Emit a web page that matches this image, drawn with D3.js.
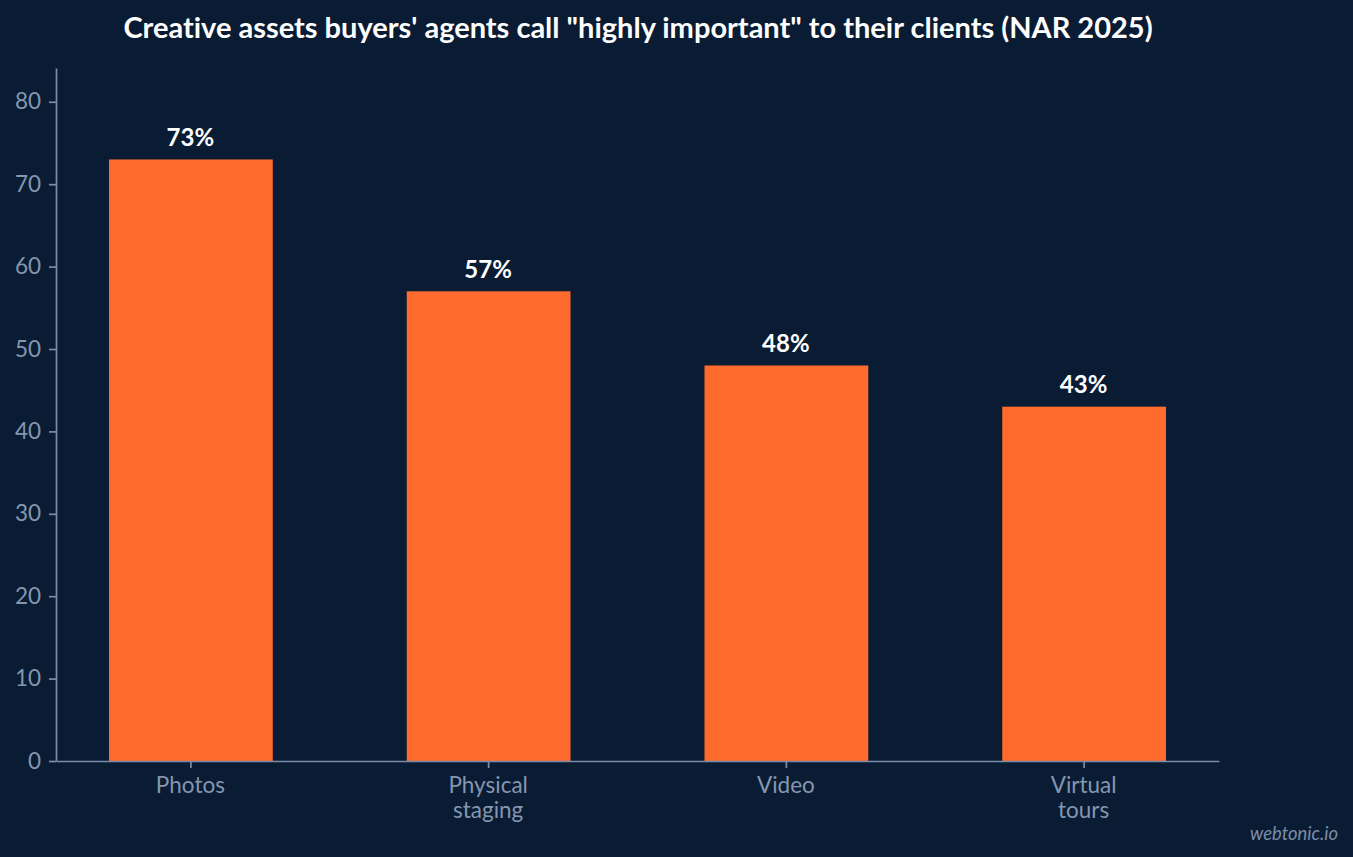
<!DOCTYPE html>
<html>
<head>
<meta charset="utf-8">
<script src="https://cdn.jsdelivr.net/npm/d3@7"></script>
<style>
  html, body { margin: 0; padding: 0; background: #0a1c33; }
  svg { display: block; font-family: Lato, sans-serif; font-variant-ligatures: none; }
  .axis path, .axis line { stroke: #7b8ca8; stroke-width: 1.7; }
  .axis text { fill: #8496b0; font-size: 22.5px; font-family: Lato, sans-serif; }
</style>
</head>
<body>
<svg id="chart"></svg>
<script>
var categories = ["Photos", "Physical\nstaging", "Video", "Virtual\ntours"];
var values = [73, 57, 48, 43];
var yTicks = [0, 10, 20, 30, 40, 50, 60, 70, 80];
var yMax = 84.1;

var width = 1353, height = 857;
var margin = { top: 68, right: 134, bottom: 96, left: 56 };

var svg = d3.select("#chart")
    .attr("width", width)
    .attr("height", height);

svg.append("rect")
    .attr("width", width)
    .attr("height", height)
    .attr("fill", "#0a1c33");

var x = d3.scaleBand()
    .domain(categories)
    .range([margin.left, width - margin.right])
    .paddingInner(0.45)
    .paddingOuter(0.178);

var y = d3.scaleLinear()
    .domain([0, yMax])
    .range([height - margin.bottom, margin.top]);

svg.selectAll(".bar")
    .data(values)
  .enter().append("rect")
    .attr("class", "bar")
    .attr("x", function(d, i) { return x(categories[i]); })
    .attr("y", function(d) { return y(d); })
    .attr("width", x.bandwidth())
    .attr("height", function(d) { return y(0) - y(d); })
    .attr("fill", "#ff6b2c");

svg.selectAll(".value")
    .data(values)
  .enter().append("text")
    .attr("class", "value")
    .attr("x", function(d, i) { return x(categories[i]) + x.bandwidth() / 2 - 0.5; })
    .attr("y", function(d) { return y(d) - 13.5; })
    .attr("text-anchor", "middle")
    .attr("fill", "#ffffff")
    .attr("font-size", 24)
    .attr("font-weight", 700)
    .text(function(d) { return d + "%"; });

var yAxis = svg.append("g")
    .attr("class", "axis")
    .attr("transform", "translate(" + margin.left + ",0)")
    .call(d3.axisLeft(y).tickValues(yTicks).tickSize(7).tickSizeOuter(0).tickPadding(8).tickFormat(d3.format("d")));

var xAxis = svg.append("g")
    .attr("class", "axis")
    .attr("transform", "translate(0," + y(0) + ")")
    .call(d3.axisBottom(x).tickSize(7).tickSizeOuter(0).tickFormat(""));

// category labels can run to two lines
xAxis.selectAll(".tick text").each(function(d) {
  var t = d3.select(this)
      .attr("y", 32)
      .attr("dy", 0);
  d.split("\n").forEach(function(line, i) {
    t.append("tspan")
        .attr("x", -0.5)
        .attr("dy", i ? 25 : 0)
        .text(line);
  });
});

svg.append("text")
    .attr("x", 638)
    .attr("y", 37.5)
    .attr("text-anchor", "middle")
    .attr("fill", "#ffffff")
    .attr("font-size", 29)
    .attr("font-weight", 700)
    .text("Creative assets buyers' agents call \"highly important\" to their clients (NAR 2025)");

svg.append("text")
    .attr("x", 1338)
    .attr("y", 840)
    .attr("text-anchor", "end")
    .attr("fill", "#7b8ca8")
    .attr("font-size", 18.4)
    .attr("font-style", "italic")
    .text("webtonic.io");
</script>
</body>
</html>
